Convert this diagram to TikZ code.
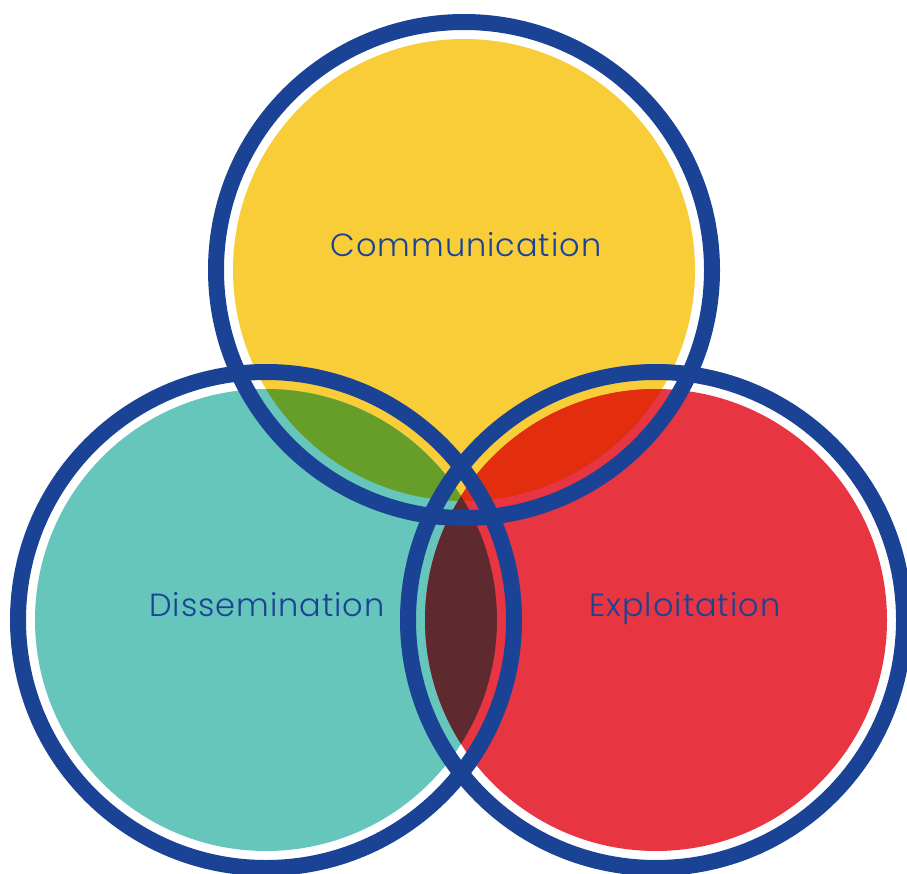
\documentclass[tikz,border=0pt]{standalone}
\usepackage{fontspec}
\setmainfont{Poppins}[UprightFont=* Light, LetterSpace=3]
\usepackage{tikz}
\usetikzlibrary{positioning}

\definecolor{vennblue}{HTML}{1A4396}
\definecolor{vennyellow}{HTML}{F9CD38}
\definecolor{vennteal}{HTML}{67C6BB}
\definecolor{vennred}{HTML}{E73541}
\definecolor{venngreen}{HTML}{679E2A}
\definecolor{vennorange}{HTML}{E22D0E}
\definecolor{vennmaroon}{HTML}{5E2A30}

\begin{document}
\begin{tikzpicture}[
x=1pt, y=-1pt,
disk/.style={circle, minimum size=462pt, inner sep=0pt},
ring/.style={draw=vennblue, line width=16pt},
label/.style={text=vennblue, font=\fontsize{32}{38}\selectfont, inner sep=0pt, anchor=base},
]
\useasboundingbox (0,0) rectangle (907,874);

%Disks
\node[disk, fill=vennyellow] (comm) at (464,270) {};
\node[disk, fill=vennteal]   (diss) at (266,620) {};
\node[disk, fill=vennred]    (expl) at (656,620) {};

%Overlaps
\begin{scope}
\clip (comm.center) circle (231pt);
\fill[venngreen] (diss.center) circle (231pt);
\fill[vennorange] (expl.center) circle (231pt);
\end{scope}
\begin{scope}
\clip (diss.center) circle (231pt);
\fill[vennmaroon] (expl.center) circle (231pt);
\end{scope}

%Rings
\draw[ring] (comm.center) circle (248pt);
\draw[ring] (diss.center) circle (248pt);
\draw[ring] (expl.center) circle (248pt);

%Labels
\node[label] (commtext) at (466,257) {Communication};
\node[label] (disstext) at (267,616) {Dissemination};
\node[label] (expltext) at (685,616) {Exploitation};

\end{tikzpicture}
\end{document}
